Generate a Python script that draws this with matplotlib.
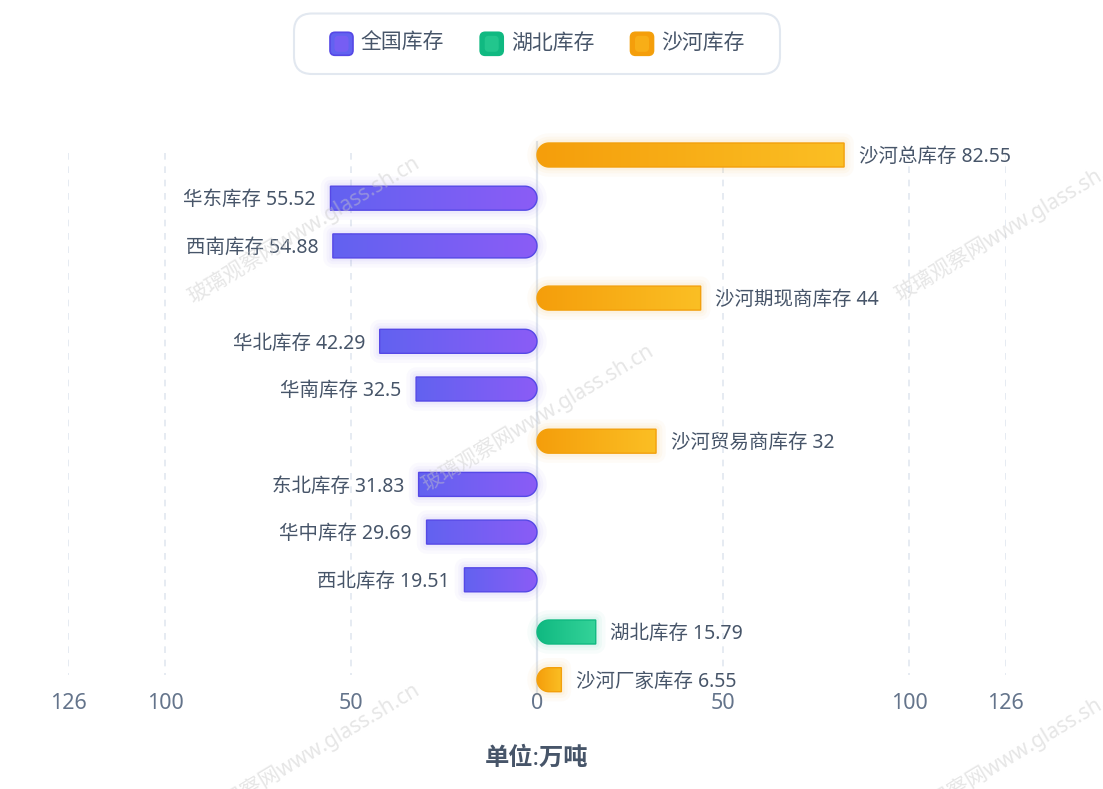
import numpy as np
import matplotlib
matplotlib.use("Agg")
import matplotlib.pyplot as plt
from matplotlib.path import Path
from matplotlib.patches import PathPatch, FancyBboxPatch
from matplotlib.colors import LinearSegmentedColormap

plt.rcParams['font.family'] = ['Noto Sans', 'Noto Sans CJK SC', 'DejaVu Sans']

# ---------------- data ----------------
categories = ['沙河总库存', '华东库存', '西南库存', '沙河期现商库存', '华北库存', '华南库存',
              '沙河贸易商库存', '东北库存', '华中库存', '西北库存', '湖北库存', '沙河厂家库存']
values = [82.55, 55.52, 54.88, 44, 42.29, 32.5, 32, 31.83, 29.69, 19.51, 15.79, 6.55]
series_of = ['沙河库存', '全国库存', '全国库存', '沙河库存', '全国库存', '全国库存',
             '沙河库存', '全国库存', '全国库存', '全国库存', '湖北库存', '沙河库存']
series_names = ['全国库存', '湖北库存', '沙河库存']
xticks = [-126, -100, -50, 0, 50, 100, 126]
unit_label = '单位:万吨'
watermark = '玻璃观察网www.glass.sh.cn'

# ---------------- style ----------------
direction = {'全国库存': -1, '湖北库存': 1, '沙河库存': 1}
grad = {'全国库存': ('#6262f0', '#8b5cf6'),
        '湖北库存': ('#10b981', '#34d399'),
        '沙河库存': ('#f59e0b', '#fbbf24')}
edge = {'全国库存': '#5548e6', '湖北库存': '#10b981', '沙河库存': '#f3a00c'}
glow = {'全国库存': '#6d5cf0', '湖北库存': '#10b981', '沙河库存': '#f59e0b'}
row_offset_px = {'全国库存': -4.5, '湖北库存': 0.0, '沙河库存': 0.0}
label_color = '#475569'
tick_color = '#64748b'
grid_color = '#e2e8f0'

W, H = 1103, 789
fig = plt.figure(figsize=(W / 100, H / 100), dpi=100)
fig.patch.set_facecolor('white')

x0px, x1px = 537 - 126 * 3.72, 537 + 126 * 3.72
ytop, ybot = 131.15, 703.55
ax = fig.add_axes([x0px / W, 1 - ybot / H, (x1px - x0px) / W, (ybot - ytop) / H])
ax.set_xlim(-126, 126)
ax.set_ylim(11.5, -0.5)
ax.set_facecolor('none')
for s in ax.spines.values():
    s.set_visible(False)

px_x = (x1px - x0px) / 252.0
px_y = (ybot - ytop) / 12.0

# grid lines
for t in xticks:
    if t == 0:
        continue
    ax.plot([t, t], [-0.05, 10.9], color=grid_color, lw=1.2, ls=(0, (4, 4)), zorder=0)
ax.plot([0, 0], [-0.27, 11.25], color='#dfe5ee', lw=1.6, zorder=1)

ax.set_xticks(xticks)
ax.set_xticklabels([f'{abs(t)}' for t in xticks])
ax.tick_params(axis='x', length=0, pad=-7.5, labelsize=15.5, labelcolor=tick_color)
ax.set_yticks([])

r_px = 12.0


def bar_path(v, yc):
    rx = r_px / px_x
    hh = r_px / px_y
    t = np.linspace(-np.pi / 2, -3 * np.pi / 2, 40)
    ax_ = rx + rx * np.cos(t)
    ay_ = yc + hh * np.sin(t)
    xs = np.concatenate([[v], ax_, [v]])
    ys = np.concatenate([[yc - hh], ay_, [yc + hh]])
    if v < 0:
        xs = np.where(xs == v, v, -xs)
    verts = np.column_stack([xs, ys])
    verts = np.vstack([verts, verts[:1]])
    codes = [Path.MOVETO] + [Path.LINETO] * (len(verts) - 2) + [Path.CLOSEPOLY]
    return Path(verts, codes), hh


for i, (cat, val, ser) in enumerate(zip(categories, values, series_of)):
    sgn = direction[ser]
    v = sgn * val
    yc = i + row_offset_px[ser] / px_y
    path, hh = bar_path(v, yc)
    # soft glow
    for lw, a in [(14, 0.03), (9, 0.04), (5, 0.05)]:
        ax.add_patch(PathPatch(path, facecolor='none', edgecolor=glow[ser], lw=lw,
                               alpha=a, zorder=2, joinstyle='round'))
    cmap = LinearSegmentedColormap.from_list('g', grad[ser])
    g = np.linspace(0, 1, 256).reshape(1, -1)
    xa, xb = (min(0, v), max(0, v))
    im = ax.imshow(g, cmap=cmap, extent=[xa, xb, yc + hh, yc - hh], aspect='auto',
                   zorder=3, interpolation='bilinear')
    patch = PathPatch(path, facecolor='none', edgecolor=edge[ser], lw=1.0, zorder=4)
    ax.add_patch(patch)
    im.set_clip_path(patch)
    txt = f'{cat} {val:g}'
    if sgn > 0:
        ax.annotate(txt, xy=(v, yc), xytext=(10.5, -1.5), textcoords='offset points',
                    ha='left', va='center', fontsize=14, color=label_color, zorder=5)
    else:
        ax.annotate(txt, xy=(v, yc), xytext=(-10.5, -1.5), textcoords='offset points',
                    ha='right', va='center', fontsize=14, color=label_color, zorder=5)

ax.set_xlim(-126, 126)
ax.set_ylim(11.5, -0.5)

# ---------------- overlay: legend, unit, watermarks ----------------
ov = fig.add_axes([0, 0, 1, 1])
ov.set_xlim(0, W)
ov.set_ylim(H, 0)
ov.axis('off')
ov.patch.set_alpha(0)

ov.add_patch(FancyBboxPatch((294, 13.5), 486, 60.5,
                            boxstyle='round,pad=0,rounding_size=18',
                            facecolor='white', edgecolor='#e2e8f0', lw=1.5, zorder=1))
leg_x = [341.5, 491.7, 642]
for name, cx in zip(series_names, leg_x):
    ov.add_patch(FancyBboxPatch((cx - 11.5, 43.8 - 11.5), 23, 23,
                                boxstyle='round,pad=0,rounding_size=5',
                                facecolor=grad[name][0], edgecolor=edge[name], lw=1.2, zorder=2))
    ov.add_patch(FancyBboxPatch((cx - 7, 43.8 - 8), 14, 16,
                                boxstyle='round,pad=0,rounding_size=4',
                                facecolor=grad[name][1], edgecolor='none', alpha=0.5, zorder=3))
    ov.text(cx + 19, 43.5, name, ha='left', va='center', fontsize=15, color=label_color, zorder=4)

ov.text(537, 759, unit_label, ha='center', va='center', fontsize=17.5, fontweight='bold',
        color=label_color)

for (cx, cy) in [(303, 230), (537, 418), (1010, 228), (303, 757), (1010, 757)]:
    ov.text(cx, cy, watermark, ha='center', va='center', rotation=31, fontsize=15,
            color='#c8c8c8', alpha=0.45, rotation_mode='anchor', zorder=10)

fig.savefig('out.png', dpi=100)
